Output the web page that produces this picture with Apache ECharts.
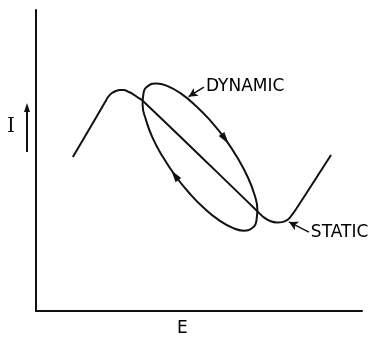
<!DOCTYPE html>
<html>
<head>
<meta charset="UTF-8">
<title>I-E static and dynamic</title>
<script src="https://cdn.jsdelivr.net/npm/echarts@6/dist/echarts.min.js"></script>
<style>
    html, body { margin: 0; padding: 0; background: #fff; }
    #chart { width: 379px; height: 343px; }
</style>
</head>
<body>
<div id="chart"></div>
<script>
    // static characteristic (E, I in 0..100)
    var staticE = [11.3, 21.2, 22.1, 23.3, 24.5, 25.8, 27.0, 28.2, 29.4, 31.0, 32.8,
                   67.2, 68.4, 69.9, 71.8, 73.9, 75.8, 77.3, 78.5, 79.8, 90.5];
    var staticI = [51.2, 69.4, 71.1, 72.4, 73.1, 73.4, 73.4, 72.9, 72.3, 71.1, 69.8,
                   33.9, 32.6, 31.1, 29.9, 29.4, 29.6, 30.4, 31.9, 33.9, 51.8];

    // dynamic loop, traced clockwise from the middle of its left side
    var dynE = [42.6, 38.8, 35.7, 33.7, 32.7, 33.0, 34.4, 37.0, 40.4, 44.5, 49.0, 53.6,
                58.0, 61.8, 64.9, 67.0, 67.9, 67.6, 66.2, 63.7, 60.2, 56.1, 51.6, 47.0, 42.6];
    var dynI = [45.1, 51.4, 57.7, 63.6, 68.6, 72.5, 74.8, 75.6, 74.7, 72.2, 68.2, 63.1,
                57.2, 50.9, 44.6, 38.7, 33.7, 29.9, 27.5, 26.7, 27.7, 30.2, 34.1, 39.2, 45.1];

    // arrow heads on the loop: E, I, rotation
    var loopArrows = [[58.0, 57.2, 216], [42.6, 45.1, 36]];

    // callouts: arrow tail, arrow tip, text
    var notes = [
        {text: 'DYNAMIC', from: [51.5, 74.4], to: [46.8, 71.2]},
        {text: 'STATIC', from: [83.7, 26.2], to: [77.6, 29.6]}
    ];

    var ink = '#111';
    var chart = echarts.init(document.getElementById('chart'));

    function zip(a, b) {
        return a.map(function (v, i) { return [v, b[i]]; });
    }

    chart.setOption({
        animation: false,
        grid: {left: 36, right: 17, top: 10, bottom: 32},
        xAxis: {
            type: 'value', min: 0, max: 100,
            axisLine: {lineStyle: {color: ink, width: 2}},
            axisTick: {show: false}, axisLabel: {show: false}, splitLine: {show: false}
        },
        yAxis: {
            type: 'value', min: 0, max: 100,
            axisLine: {show: true, lineStyle: {color: ink, width: 2}},
            axisTick: {show: false}, axisLabel: {show: false}, splitLine: {show: false}
        },
        series: [
            {
                name: 'static', type: 'line', data: zip(staticE, staticI),
                smooth: 0.4, symbol: 'none',
                lineStyle: {color: ink, width: 2}
            },
            {
                name: 'dynamic', type: 'line', data: zip(dynE, dynI),
                smooth: 0.5, symbol: 'none',
                lineStyle: {color: ink, width: 2}
            },
            {
                name: 'arrows', type: 'scatter',
                data: loopArrows.map(function (a) {
                    return {value: [a[0], a[1]], symbolRotate: a[2]};
                }),
                symbol: 'triangle', symbolSize: [7, 12],
                itemStyle: {color: ink, opacity: 1}
            },
            {
                name: 'callouts', type: 'line', data: [],
                markLine: {
                    silent: true, symbol: ['none', 'arrow'], symbolSize: [7, 9],
                    label: {show: false},
                    lineStyle: {color: ink, width: 1.5, type: 'solid'},
                    data: notes.map(function (n) {
                        return [{coord: n.from}, {coord: n.to}];
                    })
                }
            },
            {
                name: 'notes', type: 'scatter', symbolSize: 0,
                itemStyle: {opacity: 1},
                data: notes.map(function (n) { return [n.from[0], n.from[1], n.text]; }),
                label: {
                    show: true, position: 'right', distance: 2,
                    formatter: function (p) { return p.value[2]; },
                    color: '#000', fontSize: 17, fontFamily: 'DejaVu Sans'
                }
            }
        ],
        graphic: [
            {type: 'text', left: 7, top: 117,
                style: {text: 'I', font: '20px "DejaVu Serif"', fill: ink}},
            {type: 'line', shape: {x1: 27, y1: 152, x2: 27, y2: 110},
                style: {stroke: ink, lineWidth: 2}},
            {type: 'polygon', shape: {points: [[24, 112], [30, 112], [27, 103]]},
                style: {fill: ink}},
            {type: 'text', left: 177, top: 320,
                style: {text: 'E', font: '17px "DejaVu Sans"', fill: '#000'}}
        ]
    });
</script>
</body>
</html>
